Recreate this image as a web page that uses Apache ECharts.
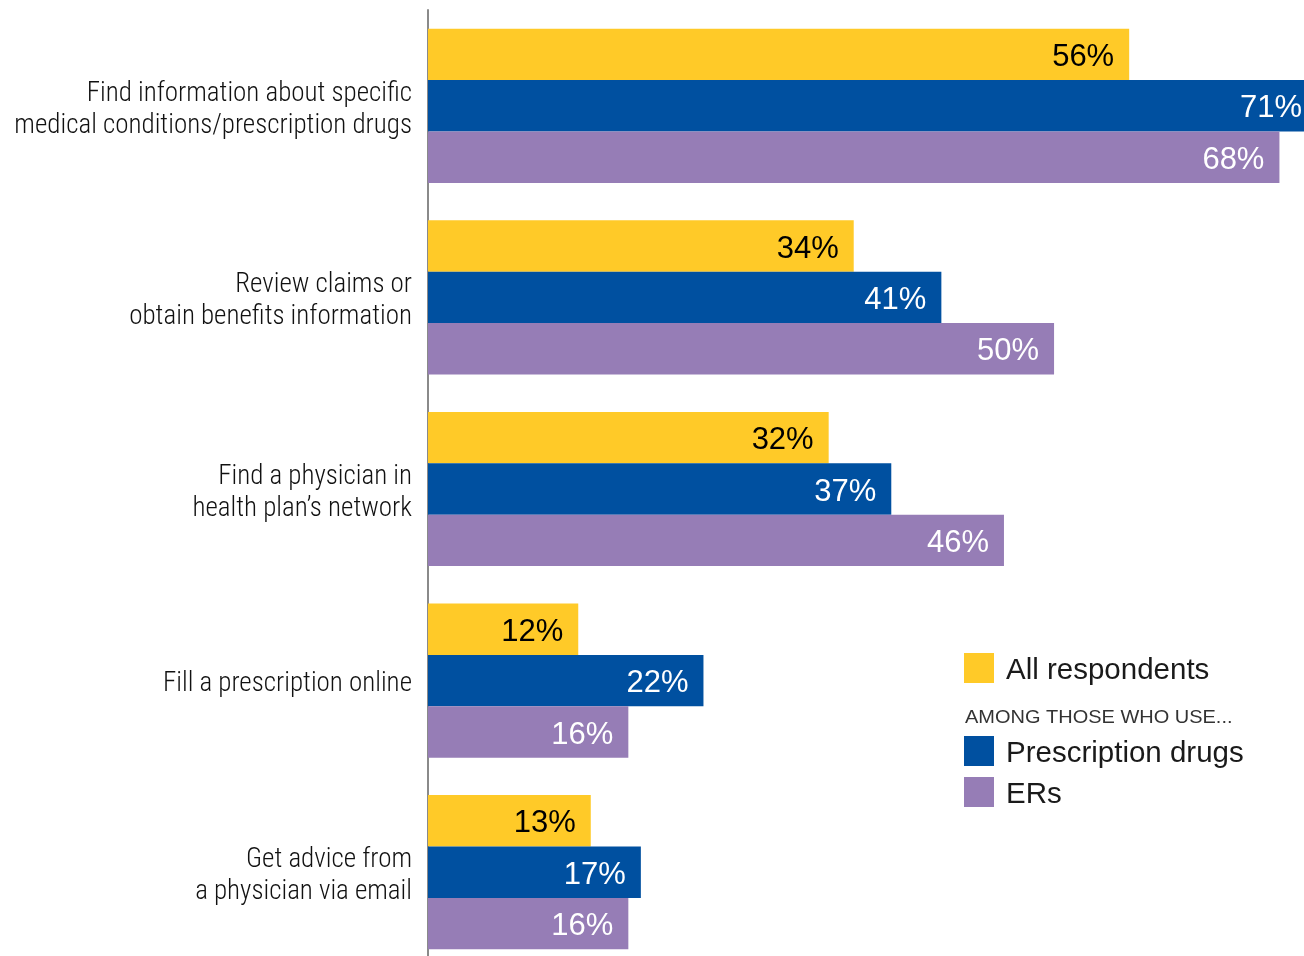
<!DOCTYPE html>
<html>
<head>
<meta charset="utf-8">
<script src="https://cdn.jsdelivr.net/npm/echarts@6/dist/echarts.min.js"></script>
<style>
  html, body { margin: 0; padding: 0; background: #fff; }
  #chart { width: 1304px; height: 956px; }
</style>
</head>
<body>
<div id="chart"></div>
<script>
// Online activities, share of respondents (%)
const categories = [
  'Find information about specific\nmedical conditions/prescription drugs',
  'Review claims or\nobtain benefits information',
  'Find a physician in\nhealth plan\u2019s network',
  'Fill a prescription online',
  'Get advice from\na physician via email'
];
const allRespondents = [56, 34, 32, 12, 13];
const prescriptionDrugs = [71, 41, 37, 22, 17];
const ers = [68, 50, 46, 16, 16];

const seriesNames = ['All respondents', 'Prescription drugs', 'ERs'];
const colors = ['#FFCA28', '#0050A0', '#967DB6'];
const labelColors = ['#000', '#fff', '#fff'];
const valueFont = '"Liberation Sans", Arial, sans-serif';
const categoryFont = '"Roboto Condensed", sans-serif';

const chart = echarts.init(document.getElementById('chart'), null, { renderer: 'canvas' });

function makeSeries(name, data, i) {
  return {
    name: name,
    type: 'bar',
    data: data,
    barGap: '0%',
    barCategoryGap: '19.5%',
    itemStyle: { color: colors[i] },
    label: {
      show: true,
      position: 'insideRight',
      distance: 15,
      offset: [0, 3],
      formatter: '{c}%',
      color: labelColors[i],
      fontSize: 31,
      fontFamily: valueFont
    },
    emphasis: { disabled: true }
  };
}

// Category label: a thin spacer line on top nudges the text block slightly down
function categoryLabel(value) {
  return '{s| }\n' + value.split('\n').map(function (line) { return '{a|' + line + '}'; }).join('\n');
}

// Legend label, nudged down a little against its swatch
function legendLabel(name) {
  return '{s| }\n{a|' + name + '}';
}

const legendText = {
  padding: [0, 0, 0, 7],
  rich: {
    s: { fontSize: 1, lineHeight: 6 },
    a: { fontSize: 29.5, lineHeight: 24, color: '#1a1a1a', fontFamily: valueFont }
  }
};

chart.setOption({
  animation: false,
  backgroundColor: '#fff',
  grid: { left: 428, right: -13, top: 10, height: 958, containLabel: false, outerBoundsMode: 'none' },
  xAxis: {
    type: 'value',
    min: 0,
    max: 71,
    show: false
  },
  yAxis: {
    type: 'category',
    data: categories,
    inverse: true,
    axisLine: { show: true, lineStyle: { color: '#8a8a8a', width: 2 } },
    axisTick: { show: false },
    axisLabel: {
      margin: 16,
      align: 'right',
      formatter: categoryLabel,
      rich: {
        s: { fontSize: 1, lineHeight: 8 },
        a: {
          fontSize: 27,
          fontWeight: 300,
          lineHeight: 32,
          color: '#111',
          align: 'right',
          fontFamily: categoryFont
        }
      }
    }
  },
  legend: [
    {
      data: ['All respondents'],
      left: 964,
      top: 653,
      padding: 0,
      itemWidth: 30,
      itemHeight: 30,
      icon: 'rect',
      selectedMode: false,
      formatter: legendLabel,
      textStyle: legendText
    },
    {
      data: ['Prescription drugs', 'ERs'],
      orient: 'vertical',
      left: 964,
      top: 736,
      padding: 0,
      itemGap: 8,
      itemWidth: 30,
      itemHeight: 30,
      icon: 'rect',
      selectedMode: false,
      formatter: legendLabel,
      textStyle: legendText
    }
  ],
  graphic: [
    {
      type: 'text',
      x: 965,
      y: 718,
      scaleX: 1.08,
      style: {
        text: 'AMONG THOSE WHO USE...',
        fontSize: 18.5,
        fill: '#333',
        fontFamily: valueFont,
        verticalAlign: 'middle'
      }
    }
  ],
  series: [
    makeSeries(seriesNames[0], allRespondents, 0),
    makeSeries(seriesNames[1], prescriptionDrugs, 1),
    makeSeries(seriesNames[2], ers, 2)
  ]
});
</script>
</body>
</html>
